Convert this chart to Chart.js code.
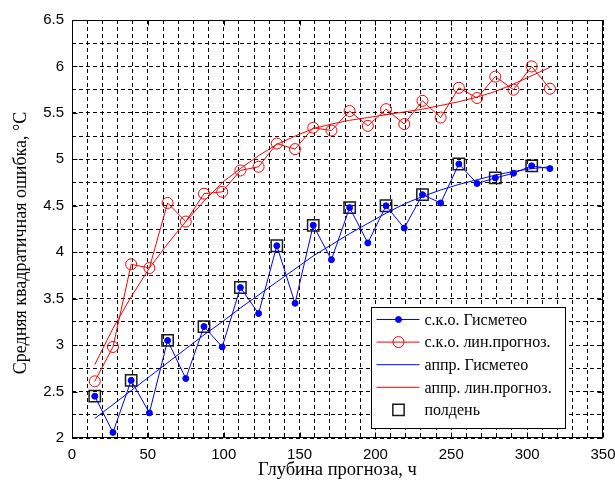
<!DOCTYPE html>
<html>
<head>
<meta charset="utf-8">
<script src="https://cdn.jsdelivr.net/npm/chart.js@4.4.0/dist/chart.umd.min.js"></script>
<style>
  html, body { margin: 0; padding: 0; background: #fff; }
  #wrap { width: 615px; height: 484px; }
</style>
</head>
<body>
<div id="wrap"><canvas id="chart" width="615" height="484"></canvas></div>
<script>
/* forecast depth, hours */
const hours = [15, 27, 39, 51, 63, 75, 87, 99, 111, 123, 135, 147, 159, 171, 183, 195, 207, 219, 231, 243, 255, 267, 279, 291, 303, 315];
/* RMS error, Gismeteo */
const gismeteo = [2.45, 2.06, 2.62, 2.27, 3.05, 2.64, 3.20, 2.98, 3.62, 3.34, 4.07, 3.45, 4.29, 3.92, 4.48, 4.10, 4.50, 4.26, 4.62, 4.53, 4.95, 4.74, 4.80, 4.85, 4.93, 4.90];
/* RMS error, linear forecast */
const linForecast = [2.61, 2.98, 3.87, 3.83, 4.53, 4.33, 4.63, 4.65, 4.88, 4.92, 5.17, 5.11, 5.34, 5.31, 5.52, 5.36, 5.54, 5.38, 5.63, 5.45, 5.77, 5.66, 5.89, 5.75, 6.00, 5.76];
/* approximations */
const gismeteoFit = [2.21, 2.36, 2.51, 2.66, 2.81, 2.96, 3.11, 3.25, 3.40, 3.54, 3.68, 3.82, 3.96, 4.08, 4.20, 4.31, 4.42, 4.52, 4.60, 4.67, 4.73, 4.78, 4.83, 4.87, 4.90, 4.92];
const linFit = [2.79, 3.18, 3.52, 3.83, 4.09, 4.33, 4.55, 4.75, 4.90, 5.04, 5.16, 5.25, 5.33, 5.38, 5.42, 5.45, 5.48, 5.51, 5.54, 5.58, 5.62, 5.67, 5.73, 5.81, 5.90, 5.99];
/* noon points (subset of the Gismeteo series) */
const noonHours = [15, 39, 63, 87, 111, 135, 159, 183, 207, 231, 255, 279, 303];

const legendLabels = ['с.к.о. Гисметео', 'с.к.о. лин.прогноз.', 'аппр. Гисметео', 'аппр. лин.прогноз.', 'полдень'];
const yTitle = 'Средняя квадратичная ошибка, °C';

const BLUE = '#0000ff', RED = '#ff0000', SQ = '#1a1a1a';
const SERIF = "'Liberation Serif', 'Times New Roman', serif";
const SANS = "'Liberation Sans', Arial, sans-serif";

const pts = (ys) => hours.map((h, i) => ({ x: h, y: ys[i] }));
const noon = noonHours.map((h) => ({ x: h, y: gismeteo[hours.indexOf(h)] }));

/* solid box, inward major ticks, y title and the in-plot legend (MATLAB look) */
const framePlugin = {
  id: 'frame',
  afterDraw(chart) {
    const { ctx, chartArea: a, scales: { x, y } } = chart;
    const L = Math.round(a.left) + .5, R = Math.round(a.right) - .5;
    const T = Math.round(a.top) + .5, B = Math.round(a.bottom) - .5;
    ctx.save();
    ctx.strokeStyle = '#000';
    ctx.lineWidth = 1;
    ctx.setLineDash([]);
    ctx.strokeRect(L, T, R - L, B - T);
    ctx.beginPath();
    for (let v = 0; v <= 350; v += 50) {
      const px = Math.round(x.getPixelForValue(v)) + .5;
      ctx.moveTo(px, B); ctx.lineTo(px, B - 5);
      ctx.moveTo(px, T); ctx.lineTo(px, T + 5);
    }
    for (let v = 2; v <= 6.5; v += .5) {
      const py = Math.round(y.getPixelForValue(v)) + .5;
      ctx.moveTo(L, py); ctx.lineTo(L + 5, py);
      ctx.moveTo(R, py); ctx.lineTo(R - 5, py);
    }
    ctx.stroke();

    // y axis title, a little below centre as in the original
    ctx.save();
    ctx.translate(21, (a.top + a.bottom) / 2 + 14);
    ctx.rotate(-Math.PI / 2);
    ctx.font = '18px ' + SERIF;
    ctx.textAlign = 'center';
    ctx.textBaseline = 'middle';
    ctx.fillStyle = '#000';
    ctx.fillText(yTitle, 0, 0);
    ctx.restore();

    // legend box
    const bx = Math.round(a.right) - 231.5, by = Math.round(a.bottom) - 130.5, bw = 194, bh = 121;
    ctx.fillStyle = '#fff';
    ctx.fillRect(bx, by, bw, bh);
    ctx.strokeRect(bx, by, bw, bh);
    const ds = chart.data.datasets;
    ctx.font = '16px ' + SERIF;
    ctx.textBaseline = 'middle';
    legendLabels.forEach((txt, i) => {
      const d = ds[i];
      const cy = by + 12 + i * 22.6;
      const mx = bx + 27;
      if (d.showLine !== false) {
        ctx.strokeStyle = d.borderColor;
        ctx.lineWidth = 1;
        ctx.beginPath(); ctx.moveTo(bx + 5, cy); ctx.lineTo(bx + 48, cy); ctx.stroke();
      }
      if (d.pointRadius > 0) {
        ctx.beginPath();
        if (d.pointStyle === 'rect') {
          const s = d.pointRadius * Math.SQRT1_2;
          ctx.rect(mx - s, cy - s, 2 * s, 2 * s);
        } else {
          ctx.arc(mx, cy, d.pointRadius, 0, Math.PI * 2);
        }
        ctx.lineWidth = d.pointBorderWidth;
        ctx.strokeStyle = d.pointBorderColor;
        if (d.pointBackgroundColor !== 'transparent') { ctx.fillStyle = d.pointBackgroundColor; ctx.fill(); }
        ctx.stroke();
      }
      ctx.fillStyle = '#000';
      ctx.fillText(txt, bx + 53, cy + 1);
    });
    ctx.restore();
  }
};

new Chart(document.getElementById('chart'), {
  type: 'line',
  data: {
    datasets: [
      { data: pts(gismeteo), borderColor: BLUE, borderWidth: 1, pointRadius: 3, pointStyle: 'circle',
        pointBackgroundColor: BLUE, pointBorderColor: BLUE, pointBorderWidth: 1 },
      { data: pts(linForecast), borderColor: RED, borderWidth: 1, pointRadius: 5.5, pointStyle: 'circle',
        pointBackgroundColor: 'transparent', pointBorderColor: RED, pointBorderWidth: 1 },
      { data: pts(gismeteoFit), borderColor: BLUE, borderWidth: 1, pointRadius: 0 },
      { data: pts(linFit), borderColor: RED, borderWidth: 1, pointRadius: 0 },
      { data: noon, showLine: false, borderColor: SQ, pointRadius: 8, pointStyle: 'rect',
        pointBackgroundColor: 'transparent', pointBorderColor: SQ, pointBorderWidth: 1.5 }
    ]
  },
  options: {
    responsive: false,
    animation: false,
    events: [],
    layout: { padding: { top: 20, right: 12, left: 0, bottom: 0 } },
    elements: { line: { tension: 0, fill: false } },
    plugins: { legend: { display: false }, tooltip: { enabled: false } },
    scales: {
      x: {
        type: 'linear', min: 0, max: 350,
        afterFit: (s) => { s.height = 46; s.paddingLeft = 0; s.paddingRight = 0; },
        grid: { color: '#000', lineWidth: 1, drawTicks: false },
        border: { display: false, dash: [4, 3] },
        ticks: {
          stepSize: 10, autoSkip: false, maxRotation: 0, padding: 8, color: '#000',
          font: { family: SANS, size: 15 },
          callback: (v) => (v % 50 === 0 ? String(v) : '')
        },
        title: { display: true, text: 'Глубина прогноза, ч', color: '#000',
          font: { family: SERIF, size: 18.5 }, padding: { top: 0, bottom: 3 } }
      },
      y: {
        type: 'linear', min: 2, max: 6.5,
        afterFit: (s) => { s.width = 72; s.paddingTop = 0; s.paddingBottom = 0; },
        grid: { color: '#000', lineWidth: 1, drawTicks: false },
        border: { display: false, dash: [4, 3] },
        ticks: {
          stepSize: .25, autoSkip: false, padding: 8, color: '#000',
          font: { family: SANS, size: 15 },
          callback: (v) => (Math.abs(v * 2 - Math.round(v * 2)) < 1e-9 ? String(v) : '')
        }
      }
    }
  },
  plugins: [framePlugin]
});
</script>
</body>
</html>
